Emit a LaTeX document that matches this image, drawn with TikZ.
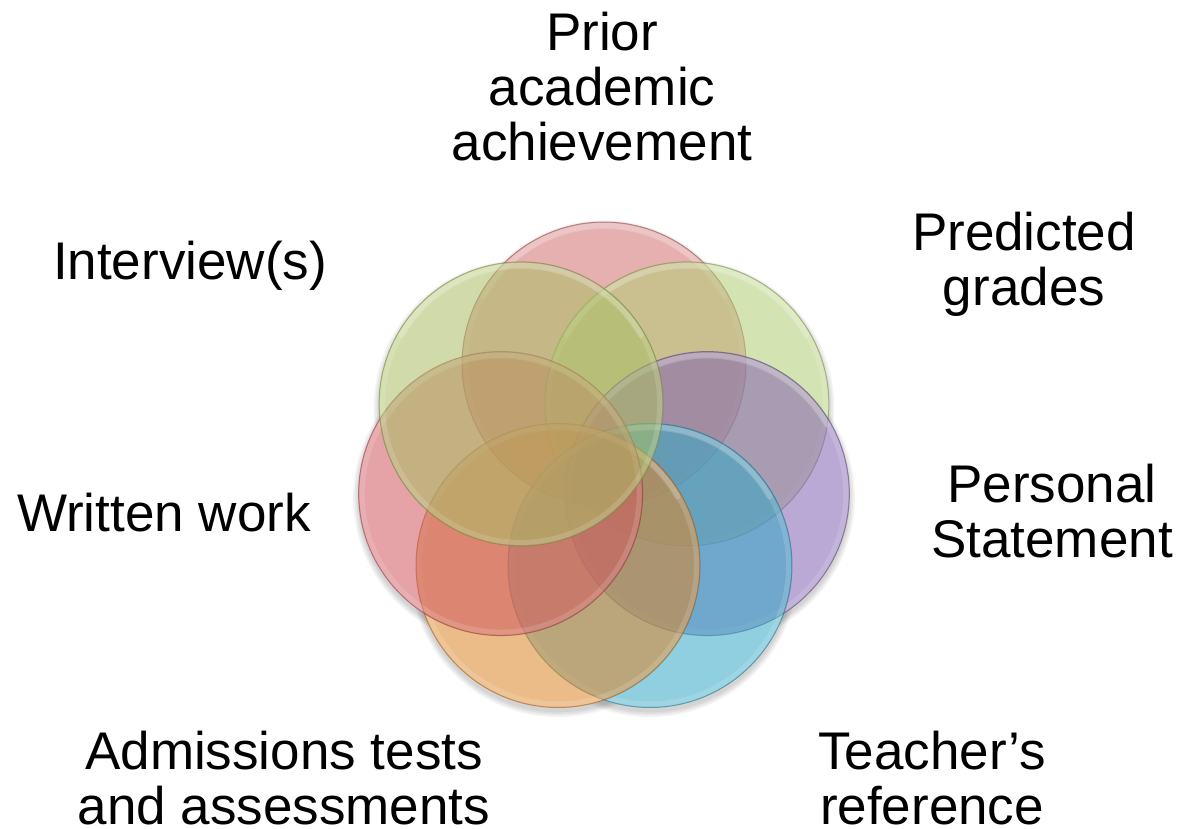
\documentclass[tikz,border=0pt]{standalone}
\usepackage{fontspec}
\setmainfont{Liberation Sans}
% base colours of the seven discs (drawn with transparency)
\definecolor{discA}{RGB}{210,112,112}
\definecolor{discB}{RGB}{178,205,116}
\definecolor{discC}{RGB}{131,99,179}
\definecolor{discD}{RGB}{51,168,197}
\definecolor{discE}{RGB}{222,133,40}
\definecolor{discF}{RGB}{208,88,95}
\definecolor{discG}{RGB}{170,190,100}
\begin{document}
\begin{tikzpicture}[x=1pt,y=-1pt,
  lbl/.style={align=center,inner sep=0pt,anchor=north,
    font=\fontsize{53}{55}\selectfont},
  disc/.style={fill=#1,fill opacity=0.55,draw=#1!70!black,draw opacity=0.6,line width=1pt}]
\useasboundingbox (0,0) rectangle (1179,829);
\fill[white] (0,0) rectangle (1179,829);

% centres of the discs, placed on a ring
\coordinate (ring) at (604,470);
\foreach \k in {0,...,6}{
  \coordinate (c\k) at ([shift={(-90+\k*360/7:106)}]ring);
}

% soft shadow below the discs
\foreach \k in {0,...,6}{
  \foreach \s in {1,3,5,7}{
    \fill[black,opacity=0.045] ([yshift=-4pt]c\k) circle ({142+\s*0.8});
  }
}
% white underlay so the shadow only shows outside
\foreach \k in {0,...,6}{
  \fill[white] (c\k) circle (142);
}

% the discs, each later one on top, with a faint bevel along the upper rim
\foreach \k/\col in {0/discA,1/discB,2/discC,3/discD,4/discE,5/discF,6/discG}{
  \path[disc=\col] (c\k) circle (142);
  \draw[white,opacity=0.14,line width=5pt] (c\k) circle (138.5);
  \draw[white,opacity=0.16,line width=6pt,line cap=round]
    ([shift={(-150:138)}]c\k) arc[start angle=-150,end angle=-30,radius=138];
}

% labels
\node[lbl] (prior) at (602,12) {Prior\\academic\\achievement};
\node[lbl] (pred) at (1024,212) {Predicted\\grades};
\node[lbl] (pers) at (1052,464) {Personal\\Statement};
\node[lbl] (teach) at (932,731) {Teacher’s\\reference};
\node[lbl] (adm) at (284,731) {Admissions tests\\and assessments};
\node[lbl] (writ) at (164,493) {Written work};
\node[lbl] (intv) at (190,241) {Interview(s)};
\end{tikzpicture}
\end{document}
